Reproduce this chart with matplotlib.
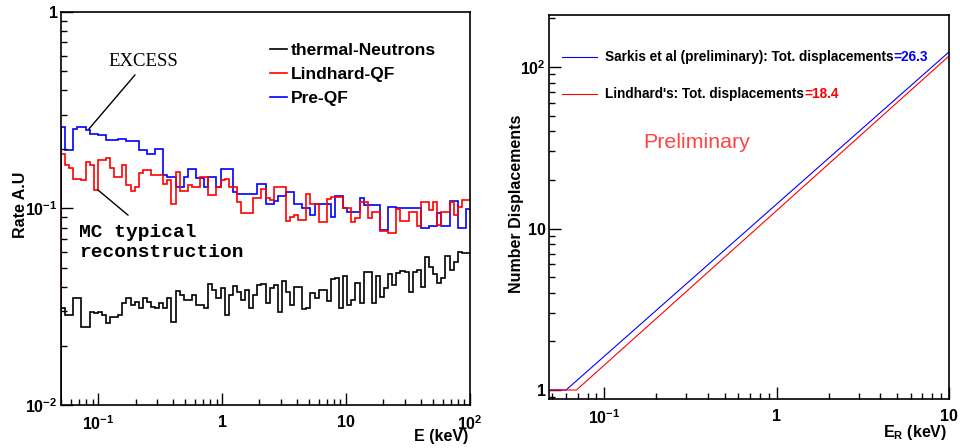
import numpy as np
from matplotlib import pyplot as plt
from matplotlib.ticker import LogLocator, NullFormatter

plt.rcParams['font.family'] = ['Liberation Sans', 'DejaVu Sans']
plt.rcParams['font.weight'] = 'bold'
plt.rcParams['axes.labelweight'] = 'bold'
plt.rcParams['mathtext.fontset'] = 'custom'
plt.rcParams['mathtext.rm'] = 'Liberation Sans:bold'
plt.rcParams['mathtext.bf'] = 'Liberation Sans:bold'
plt.rcParams['mathtext.it'] = 'Liberation Sans:bold'

# Left panel: rate per bin, 100 log-spaced bins from 0.05 to 100 keV
e_min, e_max, n_bins = 0.05, 100.0, 100

thermal = [0.0313, 0.0287, 0.0287, 0.0352, 0.0352, 0.0250, 0.0250, 0.0298, 0.0293, 0.0298,
           0.0287, 0.0261, 0.0281, 0.0281, 0.0287, 0.0329, 0.0352, 0.0323, 0.0336, 0.0313,
           0.0349, 0.0336, 0.0316, 0.0311, 0.0329, 0.0311, 0.0349, 0.0266, 0.0380, 0.0363,
           0.0342, 0.0342, 0.0363, 0.0323, 0.0323, 0.0311, 0.0411, 0.0385, 0.0349, 0.0393,
           0.0287, 0.0363, 0.0404, 0.0377, 0.0342, 0.0385, 0.0313, 0.0363, 0.0408, 0.0411,
           0.0329, 0.0393, 0.0408, 0.0296, 0.0430, 0.0377, 0.0323, 0.0400, 0.0400, 0.0307,
           0.0311, 0.0370, 0.0352, 0.0385, 0.0385, 0.0337, 0.0438, 0.0441, 0.0313, 0.0455,
           0.0323, 0.0342, 0.0418, 0.0329, 0.0476, 0.0476, 0.0329, 0.0455, 0.0356, 0.0393,
           0.0463, 0.0408, 0.0468, 0.0482, 0.0476, 0.0377, 0.0476, 0.0486, 0.0400, 0.0564,
           0.0505, 0.0463, 0.0418, 0.0441, 0.0575, 0.0486, 0.0535, 0.0602, 0.0597, 0.0597]

lindhard = [0.189, 0.167, 0.160, 0.141, 0.141, 0.140, 0.173, 0.167, 0.124, 0.177,
            0.177, 0.180, 0.160, 0.145, 0.145, 0.167, 0.132, 0.123, 0.129, 0.151,
            0.157, 0.157, 0.148, 0.148, 0.148, 0.134, 0.140, 0.105, 0.153, 0.123,
            0.123, 0.132, 0.128, 0.128, 0.144, 0.144, 0.117, 0.117, 0.128, 0.140,
            0.141, 0.129, 0.129, 0.108, 0.0944, 0.0944, 0.0944, 0.113, 0.113, 0.126,
            0.113, 0.110, 0.129, 0.129, 0.129, 0.0865, 0.0906, 0.0927, 0.0874, 0.0874,
            0.119, 0.105, 0.105, 0.0850, 0.0850, 0.112, 0.115, 0.115, 0.114, 0.100,
            0.100, 0.0850, 0.0895, 0.108, 0.108, 0.0895, 0.0963, 0.0963, 0.0770, 0.0770,
            0.0748, 0.0748, 0.0990, 0.0865, 0.0865, 0.0959, 0.0963, 0.0810, 0.108, 0.108,
            0.0981, 0.108, 0.0824, 0.0959, 0.0959, 0.108, 0.0927, 0.102, 0.110, 0.110]

pre_qf = [0.261, 0.199, 0.199, 0.254, 0.260, 0.260, 0.251, 0.239, 0.239, 0.237,
          0.237, 0.223, 0.223, 0.223, 0.225, 0.225, 0.221, 0.221, 0.221, 0.199,
          0.199, 0.189, 0.189, 0.201, 0.201, 0.148, 0.145, 0.145, 0.129, 0.129,
          0.145, 0.159, 0.159, 0.143, 0.143, 0.129, 0.144, 0.144, 0.129, 0.159,
          0.159, 0.159, 0.122, 0.119, 0.119, 0.119, 0.119, 0.119, 0.134, 0.134,
          0.105, 0.105, 0.109, 0.116, 0.116, 0.121, 0.121, 0.106, 0.106, 0.100,
          0.100, 0.0927, 0.105, 0.105, 0.105, 0.106, 0.0906, 0.116, 0.116, 0.101,
          0.0959, 0.0959, 0.0959, 0.113, 0.104, 0.104, 0.104, 0.104, 0.0778, 0.0778,
          0.102, 0.102, 0.101, 0.101, 0.101, 0.101, 0.101, 0.101, 0.0794, 0.0794,
          0.0810, 0.0810, 0.0944, 0.0810, 0.0810, 0.109, 0.109, 0.0794, 0.0794, 0.0990]

# Right panel: number of displacements vs recoil energy
sarkis_e = [0.0478, 0.060, 10.0]
sarkis_n = [1.0, 1.0, 124.0]
lind_e = [0.0478, 0.069, 10.0]
lind_n = [1.0, 1.0, 117.0]
sarkis_tot = '=26.3'
lind_tot = '=18.4'

edges = np.logspace(np.log10(e_min), np.log10(e_max), n_bins + 1)

fig = plt.figure(figsize=(9.6, 4.48), dpi=100)
ax1 = fig.add_axes([61 / 960, 1 - 405 / 448, 409 / 960, 393 / 448])
ax2 = fig.add_axes([549 / 960, 1 - 399 / 448, 400 / 960, 384 / 448])

y_low = 1e-2
handles = {}
for vals, col, name in [(pre_qf, 'blue', 'Pre-QF'),
                        (lindhard, 'red', 'Lindhard-QF'),
                        (thermal, 'black', 'thermal-Neutrons')]:
    ax1.stairs(vals, edges, color=col, lw=1.2, baseline=None)
    h, = ax1.plot([edges[0], edges[0]], [y_low, vals[0]], color=col, lw=1.2)
    handles[name] = h

ax1.set_xscale('log')
ax1.set_yscale('log')
ax1.set_xlim(e_min, e_max)
ax1.set_ylim(y_low, 1)

leg1 = ax1.legend([handles['thermal-Neutrons'], handles['Lindhard-QF'], handles['Pre-QF']],
                  ['thermal-Neutrons', 'Lindhard-QF', 'Pre-QF'],
                  loc='upper left', bbox_to_anchor=(0.511, 0.922), frameon=False,
                  fontsize=12.5, handlelength=1.0, handletextpad=0.2,
                  labelspacing=0.52, borderpad=0, borderaxespad=0)

ax1.text(0.202, 0.875, 'EXCESS', transform=ax1.transAxes, ha='center', va='center',
         family='Liberation Serif', weight='normal', fontsize=13.5)
ax1.annotate('', xy=(0.068, 0.702), xytext=(0.181, 0.840), xycoords='axes fraction',
             arrowprops=dict(arrowstyle='-', lw=1, color='black', shrinkA=0, shrinkB=0))
ax1.text(0.044, 0.413, 'MC typical\nreconstruction', transform=ax1.transAxes,
         ha='left', va='center', family='Liberation Mono', weight='bold',
         fontsize=14, linespacing=1.25)
ax1.annotate('', xy=(0.164, 0.483), xytext=(0.0905, 0.547), xycoords='axes fraction',
             arrowprops=dict(arrowstyle='-', lw=1, color='black', shrinkA=0, shrinkB=0))

ax1.set_xticks([0.1, 1, 10, 100])
ax1.set_xticklabels([r'$10^{-1}$', '1', '10', r'$10^{2}$'])
ax1.set_yticks([0.01, 0.1, 1])
ax1.set_yticklabels([r'$10^{-2}$', r'$10^{-1}$', '1'])
ax1.set_xlabel('E (keV)', loc='right', fontsize=11.5, va='center')
ax1.xaxis.set_label_coords(0.995, -0.081)
ax1.set_ylabel('Rate A.U', fontsize=11.5, va='center')
ax1.yaxis.set_label_coords(-0.1, 0.51)

# Right panel
ax2.plot(sarkis_e, sarkis_n, color='blue', lw=0.8, label='Sarkis et al (preliminary): Tot. displacements')
ax2.plot(lind_e, lind_n, color='red', lw=0.8, label="Lindhard's: Tot. displacements")
ax2.set_xscale('log')
ax2.set_yscale('log')
ax2.set_xlim(0.0478, 10)
ax2.set_ylim(0.88, 210)
ax2.set_xticks([0.1, 1, 10])
ax2.set_xticklabels([r'$10^{-1}$', '1', '10'])
ax2.set_yticks([1, 10, 100])
ax2.set_yticklabels(['1', '10', r'$10^{2}$'])
ax2.set_xlabel(r'E$_{\mathregular{R}}$ (keV)', loc='right', fontsize=11.5, va='center')
ax2.xaxis.set_label_coords(0.995, -0.0885)
ax2.set_ylabel('Number Displacements', fontsize=11.5, va='center')
ax2.yaxis.set_label_coords(-0.08, 0.508)

leg2 = ax2.legend(loc='upper left', bbox_to_anchor=(0.0325, 0.908), frameon=False,
                  fontsize=9.8, handlelength=2.57, handletextpad=0.59,
                  labelspacing=1.7, borderpad=0, borderaxespad=0)
for txt, tot, col in zip(leg2.get_texts(), [sarkis_tot, lind_tot], ['blue', 'red']):
    ax2.annotate(tot, xy=(1, 0), xycoords=txt, ha='left', va='bottom',
                 color=col, fontsize=9.8, weight='bold', zorder=6)

ax2.text(0.235, 0.669, 'Preliminary', transform=ax2.transAxes, color='#ff4444',
         fontsize=15.4, weight='normal', va='center', ha='left')

for ax in (ax1, ax2):
    ax.xaxis.set_minor_locator(LogLocator(base=10, subs=np.arange(2, 10), numticks=30))
    ax.yaxis.set_minor_locator(LogLocator(base=10, subs=np.arange(2, 10), numticks=30))
    ax.xaxis.set_minor_formatter(NullFormatter())
    ax.yaxis.set_minor_formatter(NullFormatter())
    ax.tick_params(which='both', direction='in', top=False, right=False, width=1,
                   labelsize=11.5)
    ax.tick_params(which='major', length=8.5)
    ax.tick_params(which='minor', length=4.5)
    ax.tick_params(axis='x', which='major', pad=7)
    ax.tick_params(axis='y', which='major', pad=2.5)
    for sp in ax.spines.values():
        sp.set_linewidth(1.2)

plt.savefig('out.png', dpi=100)
